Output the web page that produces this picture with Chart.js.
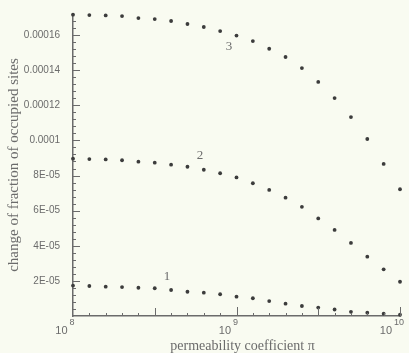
<!DOCTYPE html>
<html>
<head>
<meta charset="utf-8">
<script src="https://cdn.jsdelivr.net/npm/chart.js@4.4.0/dist/chart.umd.min.js"></script>
<style>
  html, body { margin: 0; padding: 0; background: #f9fbf1; }
  #wrap { width: 409px; height: 353px; }
</style>
</head>
<body>
<div id="wrap"><canvas id="chart"></canvas></div>
<script>
// permeability coefficient, 0.1 decade apart from 1e8 to 1e10
const permeability = [
    1.000e8, 1.259e8, 1.585e8, 1.995e8, 2.512e8, 3.162e8, 3.981e8, 5.012e8, 6.310e8, 7.943e8,
    1.000e9, 1.259e9, 1.585e9, 1.995e9, 2.512e9, 3.162e9, 3.981e9, 5.012e9, 6.310e9, 7.943e9,
    1.000e10
];

// change of fraction of occupied sites
const curve1 = [
    1.73e-5, 1.71e-5, 1.67e-5, 1.65e-5, 1.61e-5, 1.58e-5, 1.48e-5, 1.38e-5, 1.33e-5, 1.24e-5,
    1.10e-5, 1.01e-5, 0.85e-5, 0.70e-5, 0.57e-5, 0.48e-5, 0.37e-5, 0.24e-5, 0.19e-5, 0.13e-5,
    0.07e-5
];
const curve2 = [
    8.96e-5, 8.94e-5, 8.92e-5, 8.87e-5, 8.79e-5, 8.73e-5, 8.62e-5, 8.50e-5, 8.33e-5, 8.13e-5,
    7.89e-5, 7.56e-5, 7.18e-5, 6.74e-5, 6.22e-5, 5.56e-5, 4.90e-5, 4.16e-5, 3.38e-5, 2.66e-5,
    1.95e-5
];
const curve3 = [
    17.16e-5, 17.14e-5, 17.12e-5, 17.08e-5, 16.97e-5, 16.91e-5, 16.80e-5, 16.63e-5, 16.46e-5, 16.23e-5,
    15.97e-5, 15.66e-5, 15.22e-5, 14.75e-5, 14.12e-5, 13.33e-5, 12.41e-5, 11.33e-5, 10.08e-5, 8.66e-5,
    7.22e-5
];

const curveNames = ['1', '2', '3'];
const curveLabelX = [3.76e8, 5.98e8, 9.0e8];
const curveLabelY = [2.22e-5, 9.11e-5, 15.32e-5];

const yTickValues = [2e-5, 4e-5, 6e-5, 8e-5, 1e-4, 1.2e-4, 1.4e-4, 1.6e-4];
const yTickLabels = ['2E-05', '4E-05', '6E-05', '8E-05', '0.0001', '0.00012', '0.00014', '0.00016'];
const xTickValues = [1e8, 1e9, 1e10];
const xTickExponents = ['8', '9', '10'];
const xTitle = 'permeability coefficient \u03c0';
const yTitle = 'change of fraction of occupied sites';

const BG = '#f9fbf1';
const INK = '#6b6b6b';
const DOT = '#3c3c3c';
const SANS = "'Liberation Sans', Arial, sans-serif";
const SERIF = "'Liberation Serif', 'Times New Roman', serif";

function points(ys) {
    return permeability.map((x, i) => ({ x: x, y: ys[i] }));
}

// inward ticks, superscript x labels, x title and curve numbers
const axisDecor = {
    id: 'axisDecor',
    beforeDraw(chart) {
        const ctx = chart.ctx;
        ctx.save();
        ctx.fillStyle = BG;
        ctx.fillRect(0, 0, chart.width, chart.height);
        ctx.restore();
    },
    afterDraw(chart) {
        const { ctx, chartArea: a, scales: { x, y } } = chart;
        ctx.save();
        ctx.strokeStyle = INK;
        ctx.lineWidth = 1;
        ctx.beginPath();
        // y ticks every 4E-06, long ones at labels
        for (let i = 1; i <= 42; i++) {
            const py = Math.round(y.getPixelForValue(i * 4e-6)) + 0.5;
            const len = i % 5 === 0 ? 7 : 3;
            ctx.moveTo(a.left, py);
            ctx.lineTo(a.left + len, py);
        }
        // x ticks every 0.1 decade
        for (let k = 1; k <= 20; k++) {
            const px = Math.round(x.getPixelForValue(Math.pow(10, 8 + k / 10))) + 0.5;
            const len = k % 10 === 0 ? 9 : (k % 5 === 0 ? 8 : 3);
            ctx.moveTo(px, a.bottom);
            ctx.lineTo(px, a.bottom - len);
        }
        ctx.stroke();

        // 10^n labels
        ctx.fillStyle = INK;
        ctx.textBaseline = 'alphabetic';
        xTickValues.forEach((v, i) => {
            const px = x.getPixelForValue(v);
            ctx.font = '9px ' + SANS;
            const w = ctx.measureText(xTickExponents[i]).width;
            const expLeft = px - w / 2 - 1;
            ctx.textAlign = 'left';
            ctx.fillText(xTickExponents[i], expLeft, a.bottom + 9);
            ctx.font = '11px ' + SANS;
            ctx.textAlign = 'right';
            ctx.fillText('10', expLeft - 2, a.bottom + 18);
        });

        // x title, sits a little right of centre in the original
        ctx.font = '14px ' + SERIF;
        ctx.textAlign = 'center';
        ctx.textBaseline = 'middle';
        ctx.fillText(xTitle, (a.left + a.right) / 2 + 6, a.bottom + 30);

        // curve numbers
        ctx.font = '13px ' + SERIF;
        curveNames.forEach((n, i) => {
            ctx.fillText(n, x.getPixelForValue(curveLabelX[i]), y.getPixelForValue(curveLabelY[i]));
        });
        ctx.restore();
    }
};

const dotStyle = {
    showLine: false,
    pointRadius: 1.9,
    pointBorderWidth: 0,
    pointBackgroundColor: DOT,
    clip: false
};

new Chart(document.getElementById('chart'), {
    type: 'scatter',
    data: {
        datasets: [
            Object.assign({ label: curveNames[0], data: points(curve1) }, dotStyle),
            Object.assign({ label: curveNames[1], data: points(curve2) }, dotStyle),
            Object.assign({ label: curveNames[2], data: points(curve3) }, dotStyle)
        ]
    },
    options: {
        responsive: true,
        maintainAspectRatio: false,
        animation: false,
        events: [],
        layout: { padding: { top: 14, right: 9, left: 0, bottom: 0 } },
        plugins: {
            legend: { display: false },
            tooltip: { enabled: false }
        },
        scales: {
            x: {
                type: 'logarithmic',
                min: 1e8,
                max: 1e10,
                afterFit: (s) => { s.height = 37; },
                grid: { display: false },
                border: { display: true, color: INK, width: 1.5 },
                ticks: { display: false }
            },
            y: {
                min: 0,
                max: 1.72e-4,
                afterFit: (s) => { s.width = 73; },
                afterBuildTicks: (s) => { s.ticks = yTickValues.map(v => ({ value: v })); },
                grid: { display: false },
                border: { display: true, color: INK, width: 1.5 },
                ticks: {
                    padding: 5,
                    color: INK,
                    font: { family: SANS, size: 10 },
                    callback: function(value, index) {
                        return yTickLabels[index];
                    }
                },
                title: {
                    display: true,
                    text: yTitle,
                    color: INK,
                    font: { family: SERIF, size: 15 },
                    padding: { top: 5, bottom: 0 }
                }
            }
        }
    },
    plugins: [axisDecor]
});
</script>
</body>
</html>
